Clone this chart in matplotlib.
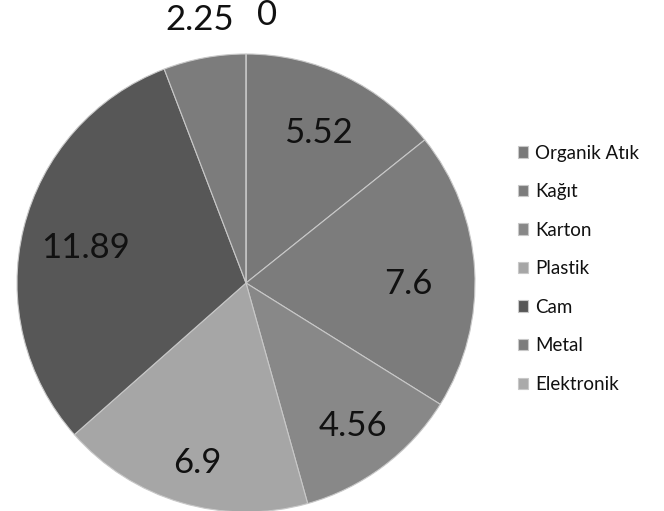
import numpy as np
import matplotlib
matplotlib.use("Agg")
import matplotlib.pyplot as plt

categories = ["Organik Atık", "Kağıt", "Karton", "Plastik", "Cam", "Metal", "Elektronik"]
values = [5.52, 7.6, 4.56, 6.9, 11.89, 2.25, 0]
value_labels = ["5.52", "7.6", "4.56", "6.9", "11.89", "2.25", "0"]

colors = ["#787878", "#7c7c7c", "#888888", "#a6a6a6", "#575757", "#7c7c7c", "#aaaaaa"]
label_radius = [0.725, 0.71, 0.78, 0.82, 0.72, 1.17, 1.17]
label_dx = [0, 0, 0, 0.02, 0, 0.01, 0.05]
label_dy = [0, -0.045, 0, 0, -0.02, 0, 0]
label_ha = ["center"] * 6 + ["left"]

plt.rcParams["font.family"] = ["Lato", "DejaVu Sans"]

W, H = 664, 511
fig = plt.figure(figsize=(W / 100, H / 100), dpi=100)
cx, cy, R = 246, 283, 229
ax = fig.add_axes([(cx - R) / W, (H - cy - R) / H, 2 * R / W, 2 * R / H])

wedges, _ = ax.pie(values, colors=colors, startangle=90, counterclock=False,
                   wedgeprops=dict(edgecolor="#c8c8c8", linewidth=0.8))
ax.set_xlim(-1, 1)
ax.set_ylim(-1, 1)
ax.set_aspect("auto")
ax.axis("off")

for w, lab, r, dx, dy, ha in zip(wedges, value_labels, label_radius, label_dx, label_dy, label_ha):
    mid = np.deg2rad((w.theta1 + w.theta2) / 2)
    x, y = r * np.cos(mid) + dx, r * np.sin(mid) + dy
    ax.text(x, y, lab, ha=ha, va="center", fontsize=25, color="#111111")

leg = fig.legend(wedges, categories, loc="upper left", bbox_to_anchor=(510 / W, 1 - 137 / H),
                 frameon=False, fontsize=13.5, handlelength=0.55, handleheight=0.55,
                 handletextpad=0.4, labelspacing=1.15, borderaxespad=0)
for t in leg.get_texts():
    t.set_color("#111111")

fig.savefig("out.png", dpi=100, facecolor="white")
